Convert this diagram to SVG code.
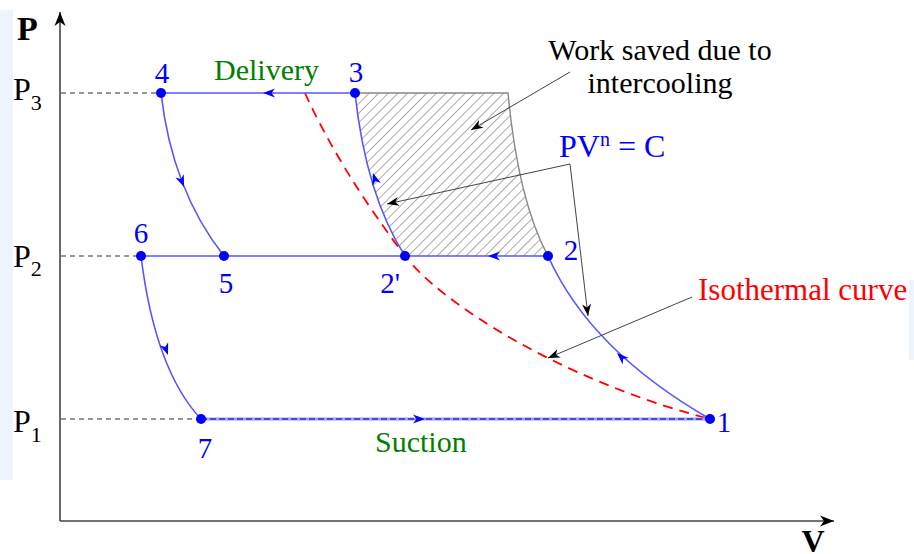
<svg xmlns="http://www.w3.org/2000/svg" width="914" height="554" viewBox="0 0 914 554">
<defs>
<style>
.serif{font-family:"Liberation Serif","Times New Roman",serif}
.lbl{font-family:"Liberation Serif","Times New Roman",serif;font-size:29px;fill:#0000ff;text-anchor:middle}
.green{font-family:"Liberation Serif","Times New Roman",serif;font-size:30px;fill:#008000}
.black{font-family:"Liberation Serif","Times New Roman",serif;font-size:30px;fill:#000}
.ax{stroke:#444;stroke-width:1.6;fill:none}
.guide{stroke:#777;stroke-width:1.5;stroke-dasharray:5 4;fill:none}
.blue{stroke:#5555ff;stroke-width:1.6;fill:none}
.iso{stroke:#ff0000;stroke-width:1.8;stroke-dasharray:10 7;fill:none}
.lead{stroke:#444;stroke-width:1;fill:none}
.tan{stroke:none;fill:none}
.pt{fill:#0000ff}
</style>
<pattern id="hatch" patternUnits="userSpaceOnUse" width="6.8" height="6.8" patternTransform="rotate(45)">
<line x1="0" y1="0" x2="0" y2="6.8" stroke="#444" stroke-width="0.9"/>
</pattern>
<marker id="ab" viewBox="-13 -6 14 12" refX="0" refY="0" markerWidth="14" markerHeight="12" markerUnits="userSpaceOnUse" orient="auto">
<path d="M0,0 L-12,-4.5 L-8.5,0 L-12,4.5 Z" fill="#0000ff"/>
</marker>
<marker id="ak" viewBox="-13 -6 14 12" refX="0" refY="0" markerWidth="14" markerHeight="12" markerUnits="userSpaceOnUse" orient="auto">
<path d="M0,0 L-12,-4.5 L-8.5,0 L-12,4.5 Z" fill="#000"/>
</marker>
<marker id="axa" viewBox="-15 -7 16 14" refX="0" refY="0" markerWidth="16" markerHeight="14" markerUnits="userSpaceOnUse" orient="auto">
<path d="M0,0 L-14,-5.5 L-10,0 L-14,5.5 Z" fill="#000"/>
</marker>
</defs>
<rect width="914" height="554" fill="#fff"/>
<g id="background" opacity="0.45">
<rect x="0" y="10" width="13" height="470" fill="#d6e6f8"/>
<rect x="909" y="280" width="5" height="80" fill="#d6e6f8"/>
</g>
<g id="axes">
<path class="ax" d="M60,521 L60,12" marker-end="url(#axa)"/>
<path class="ax" d="M60,521 L834,521" marker-end="url(#axa)"/>
<text class="serif" x="17" y="40" font-size="34" font-weight="bold">P</text>
<text class="serif" x="813" y="552" font-size="32" font-weight="bold" text-anchor="middle">V</text>
<text class="serif" x="13" y="100" font-size="32">P<tspan font-size="22" dy="10">3</tspan></text>
<text class="serif" x="13" y="267" font-size="32">P<tspan font-size="22" dy="9">2</tspan></text>
<text class="serif" x="13" y="432" font-size="32">P<tspan font-size="22" dy="10">1</tspan></text>
</g>
<g id="work-area">
<path d="M355,93 L508,93 Q518,200 548,256 L405,256 Q366,195 355,93 Z" fill="url(#hatch)" stroke="none"/>
<path d="M355,93 L508,93 Q518,200 548,256" stroke="#888" stroke-width="1.4" fill="none"/>
</g>
<g id="connectors">
<path class="guide" d="M61,93 L161,93"/>
<path class="guide" d="M61,256 L141,256"/>
<path class="guide" d="M61,419 L201,419"/>
<path class="iso" d="M305,93 Q340,170 405,256 C440,302 560,380 710,419"/>
<path class="blue" d="M161,93 L355,93"/>
<path class="blue" d="M141,256 L548,256"/>
<path d="M201,419 L710,419" stroke="#9a9aff" stroke-width="3" fill="none"/>
<path d="M201,419 L710,419" stroke="#3333bb" stroke-width="1.3" stroke-dasharray="6 3" fill="none"/>
<path class="blue" d="M161,93 Q172,190 224,256"/>
<path class="blue" d="M141,256 Q155,370 201,419"/>
<path class="blue" d="M355,93 Q366,195 405,256"/>
<path class="blue" d="M548,256 Q590,350 710,419"/>
<path class="tan" d="M270,93 L263,93" marker-end="url(#ab)"/>
<path class="tan" d="M495,256 L488,256" marker-end="url(#ab)"/>
<path class="tan" d="M418,419 L425,419" marker-end="url(#ab)"/>
<path class="tan" d="M182.2,182.4 L184,187" marker-end="url(#ab)"/>
<path class="tan" d="M166.3,350.3 L168,355" marker-end="url(#ab)"/>
<path class="tan" d="M374.5,177.8 L373,173" marker-end="url(#ab)"/>
<path class="tan" d="M620.6,356.4 L617,353" marker-end="url(#ab)"/>
<path class="lead" d="M570,72 L471,130" marker-end="url(#ak)"/>
<path class="lead" d="M570,164 L387,204" marker-end="url(#ak)"/>
<path class="lead" d="M570,164 L588,316" marker-end="url(#ak)"/>
<path class="lead" d="M692,297 L548,358" marker-end="url(#ak)"/>
</g>
<g id="node-4"><circle class="pt" cx="161" cy="93" r="5"/><text class="lbl" x="162" y="83">4</text></g>
<g id="node-3"><circle class="pt" cx="355" cy="93" r="5"/><text class="lbl" x="356" y="82">3</text></g>
<g id="node-6"><circle class="pt" cx="141" cy="256" r="5"/><text class="lbl" x="141" y="243">6</text></g>
<g id="node-5"><circle class="pt" cx="224" cy="256" r="5"/><text class="lbl" x="226" y="293">5</text></g>
<g id="node-2p"><circle class="pt" cx="405" cy="256" r="5"/><text class="lbl" x="390" y="293">2'</text></g>
<g id="node-2"><circle class="pt" cx="548" cy="256" r="5"/><text class="lbl" x="571" y="260">2</text></g>
<g id="node-7"><circle class="pt" cx="201" cy="419" r="5"/><text class="lbl" x="205" y="458">7</text></g>
<g id="node-1"><circle class="pt" cx="710" cy="419" r="5"/><text class="lbl" x="724" y="432">1</text></g>
<g id="labels">
<text class="green" x="214" y="80">Delivery</text>
<text class="green" x="375" y="452">Suction</text>
<text class="black" x="660" y="60" text-anchor="middle">Work saved due to</text>
<text class="black" x="660" y="93" text-anchor="middle">intercooling</text>
<text class="serif" x="559" y="157" font-size="32" fill="#0000ff">PV<tspan font-size="20" dy="-11">n</tspan><tspan dy="11"> = C</tspan></text>
<text class="serif" x="698" y="300" font-size="31" fill="#ff0000">Isothermal curve</text>
</g>
</svg>
